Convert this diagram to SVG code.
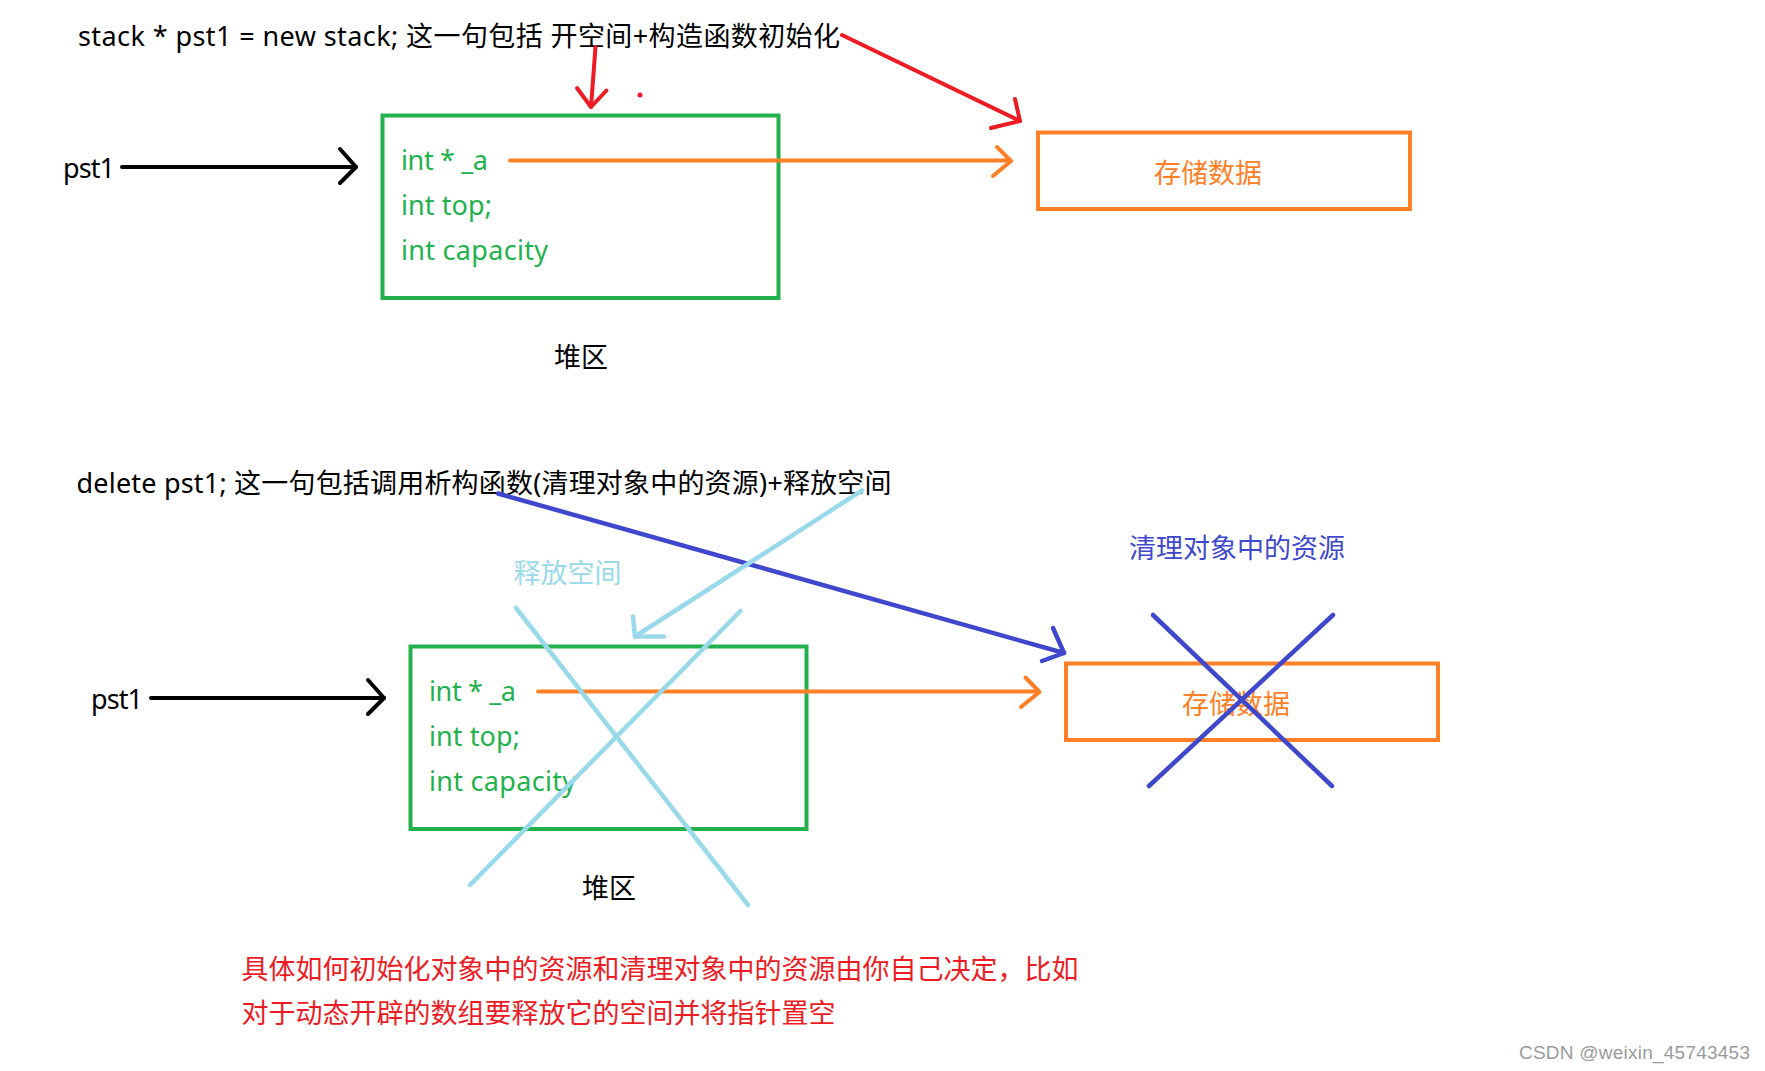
<svg xmlns="http://www.w3.org/2000/svg" width="1765" height="1071" viewBox="0 0 1765 1071">
  <style>
    .t { font-family: "Noto Sans", "Noto Sans CJK SC", sans-serif; font-size: 27px; }
    .blk { fill: #000000; }
    .grn { fill: #22B14C; }
    .org { fill: #FF7F27; }
    .red { fill: #ED1C24; }
    .ind { fill: #3F48CC; }
    .lbl { fill: #99D9EA; }
    .box-g { fill: none; stroke: #22B14C; stroke-width: 4; }
    .box-o { fill: none; stroke: #FF7F27; stroke-width: 4; }
    .ln { fill: none; stroke-linecap: round; stroke-linejoin: round; }
    .k { stroke: #000000; stroke-width: 4; }
    .o { stroke: #FF7F27; stroke-width: 4; }
    .r { stroke: #ED1C24; stroke-width: 4; }
    .b { stroke: #3F48CC; stroke-width: 4.5; }
    .c { stroke: #99D9EA; stroke-width: 4.5; }
    .wm { font-family: "Liberation Sans", Arial, sans-serif; font-size: 19px; fill: #9a9a9a; }
  </style>
  <rect width="1765" height="1071" fill="#ffffff"/>

  <!-- Titles -->
  <g id="title1">
    <text class="t blk" x="78" y="46" textLength="762">stack * pst1 = new stack; 这一句包括 开空间+构造函数初始化</text>
  </g>
  <g id="title2">
    <text class="t blk" x="76.5" y="492.5" textLength="815">delete pst1; 这一句包括调用析构函数(清理对象中的资源)+释放空间</text>
  </g>

  <!-- Top section nodes -->
  <g id="pst1-top">
    <text class="t blk" x="63" y="178" textLength="52">pst1</text>
  </g>
  <g id="heap-top">
    <rect class="box-g" x="382.5" y="115.5" width="396" height="182.5"/>
    <text class="t grn" x="401" y="169.5" textLength="87">int * _a</text>
    <text class="t grn" x="401" y="215" textLength="91">int top;</text>
    <text class="t grn" x="401" y="260" textLength="147">int capacity</text>
  </g>
  <g id="heap-label-top">
    <text class="t blk" x="554" y="366.5">堆区</text>
  </g>
  <g id="data-top">
    <rect class="box-o" x="1038" y="132.5" width="372" height="76.5"/>
    <text class="t org" x="1154" y="182.5">存储数据</text>
  </g>

  <!-- Bottom section nodes -->
  <g id="pst1-bottom">
    <text class="t blk" x="91" y="709" textLength="52">pst1</text>
  </g>
  <g id="heap-bottom">
    <rect class="box-g" x="410.5" y="646.5" width="396" height="182.5"/>
    <text class="t grn" x="429" y="700.5" textLength="87">int * _a</text>
    <text class="t grn" x="429" y="746" textLength="91">int top;</text>
    <text class="t grn" x="429" y="791" textLength="147">int capacity</text>
  </g>
  <g id="heap-label-bottom">
    <text class="t blk" x="582" y="897.5">堆区</text>
  </g>
  <g id="data-bottom">
    <rect class="box-o" x="1066" y="663.5" width="372" height="76.5"/>
    <text class="t org" x="1182" y="713.5">存储数据</text>
  </g>
  <g id="label-free">
    <text class="t lbl" x="513.5" y="583">释放空间</text>
  </g>
  <g id="label-clean">
    <text class="t ind" x="1129" y="557.5">清理对象中的资源</text>
  </g>

  <!-- Note -->
  <g id="note">
    <text class="t red" x="241.5" y="978.5">具体如何初始化对象中的资源和清理对象中的资源由你自己决定，比如</text>
    <text class="t red" x="241.5" y="1022.5">对于动态开辟的数组要释放它的空间并将指针置空</text>
  </g>

  <!-- Connectors -->
  <g id="connectors">
    <!-- top -->
    <line class="ln k" x1="122" y1="167" x2="356" y2="167"/>
    <polyline class="ln k" points="340,149 356,167 340,183"/>
    <line class="ln o" x1="510" y1="160.5" x2="1010" y2="160.5"/>
    <polyline class="ln o" points="997,147 1011,161 993,176"/>
    <line class="ln r" x1="595.5" y1="47" x2="591" y2="107"/>
    <polyline class="ln r" points="577,88 591,107 606.5,90.5"/>
    <line class="ln r" x1="842" y1="35" x2="1020" y2="121"/>
    <polyline class="ln r" points="1015,99 1020,121 991,128"/>
    <circle cx="640" cy="95" r="2.5" fill="#ED1C24"/>

    <!-- bottom -->
    <line class="ln k" x1="151" y1="698" x2="384" y2="698"/>
    <polyline class="ln k" points="368,680 384,698 368,714"/>
    <line class="ln o" x1="538" y1="691.5" x2="1038" y2="691.5"/>
    <polyline class="ln o" points="1025.5,677.5 1039.5,692 1021,707"/>
    <line class="ln b" x1="498" y1="493.5" x2="1064" y2="653"/>
    <polyline class="ln b" points="1053,628 1064,653 1042,661"/>
    <line class="ln c" x1="862" y1="490.5" x2="635" y2="636.5"/>
    <polyline class="ln c" points="633,616.5 635,636.5 664,636.5"/>

    <!-- crosses -->
    <line class="ln c" x1="516" y1="608" x2="748" y2="905"/>
    <line class="ln c" x1="740.5" y1="611" x2="470" y2="885"/>
    <line class="ln b" x1="1153" y1="615" x2="1332" y2="786"/>
    <line class="ln b" x1="1333" y1="615" x2="1149" y2="786"/>
  </g>

  <g id="watermark">
    <text class="wm" x="1519" y="1059" textLength="231">CSDN @weixin_45743453</text>
  </g>
</svg>
